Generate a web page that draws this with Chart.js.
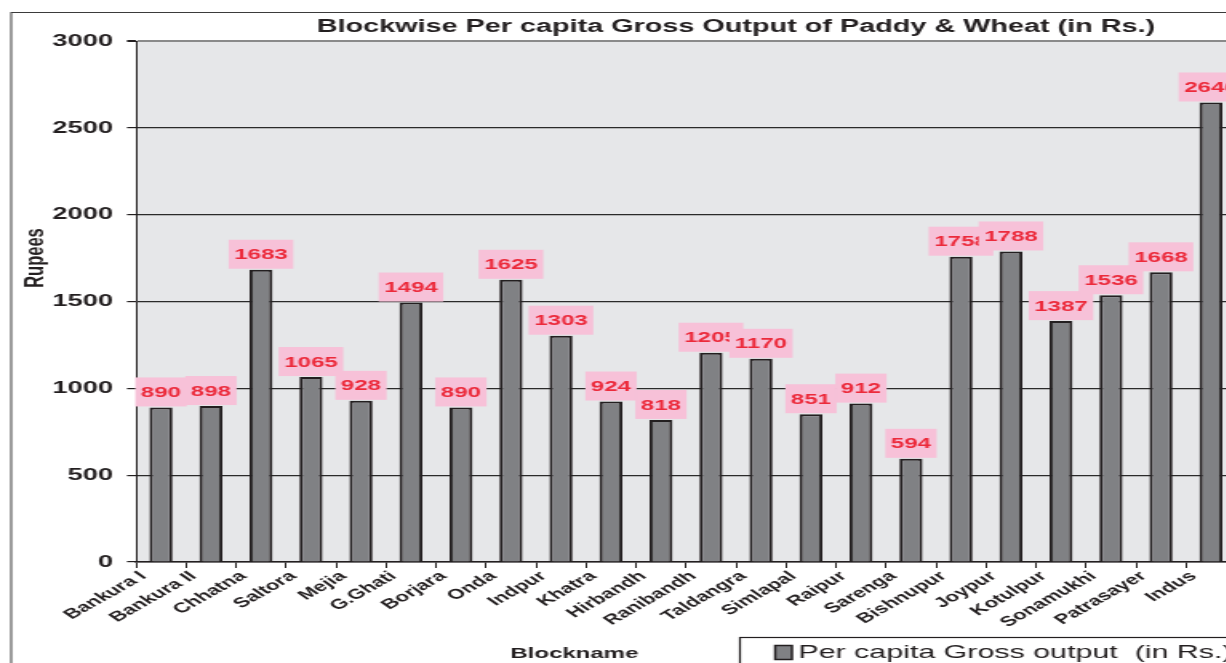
<!DOCTYPE html>
<html>
<head>
<meta charset="utf-8">
<script src="https://cdn.jsdelivr.net/npm/chart.js"></script>
<style>
  html, body { margin: 0; padding: 0; background: #fff; overflow: hidden; }
  #wrap { width: 1472px; height: 663px; }
</style>
</head>
<body>
<div id="wrap"><canvas id="chart" width="920" height="663" style="width:1472px;height:663px;display:block"></canvas></div>
<script>
// blocks of the district and per capita gross output (Rs.)
const blocks = ["Bankura I", "Bankura II", "Chhatna", "Saltora", "Mejia", "G.Ghati", "Borjara",
  "Onda", "Indpur", "Khatra", "Hirbandh", "Ranibandh", "Taldangra", "Simlapal", "Raipur",
  "Sarenga", "Bishnupur", "Joypur", "Kotulpur", "Sonamukhi", "Patrasayer", "Indus"];
const perCapitaOutput = [890, 898, 1683, 1065, 928, 1494, 890, 1625, 1303, 924, 818, 1205,
  1170, 851, 912, 594, 1758, 1788, 1387, 1536, 1668, 2646];
const yMin = 0, yMax = 3000, yStep = 500;

const chartTitle = "Blockwise Per capita Gross Output of Paddy & Wheat (in Rs.)";
const seriesName = "Per capita Gross output  (in Rs.)";
const xTitle = "Blockname";
const yTitle = "Rupees";

const ink = "#231f20";
const barFill = "#808184";
const font = "Liberation Sans";

// the original picture is stretched sideways, canvas is drawn narrow and widened by css
const backdrop = {
  id: "backdrop",
  beforeDraw(chart) {
    const { ctx, chartArea: a } = chart;
    ctx.save();
    ctx.fillStyle = "#fff";
    ctx.fillRect(0, 0, chart.width, chart.height);
    ctx.strokeStyle = "#3b3b3b";
    ctx.lineWidth = 1;
    ctx.strokeRect(7, 12.5, chart.width + 50, chart.height + 50);
    ctx.fillStyle = "#e6e7e9";
    ctx.fillRect(a.left, a.top, a.right - a.left, a.bottom - a.top);
    ctx.restore();
  }
};

const valueLabels = {
  id: "valueLabels",
  afterDatasetsDraw(chart) {
    const ctx = chart.ctx;
    const ds = chart.data.datasets[0];
    ctx.save();
    ctx.font = "bold 15px '" + font + "'";
    ctx.textAlign = "center";
    ctx.textBaseline = "middle";
    chart.getDatasetMeta(0).data.forEach((bar, i) => {
      const txt = String(ds.data[i]);
      const w = ctx.measureText(txt).width + 7;
      const h = 29;
      const bottom = bar.y - 1;
      ctx.fillStyle = "#f7c1d8";
      ctx.fillRect(bar.x - w / 2, bottom - h, w, h);
      ctx.fillStyle = "#ec2a3b";
      ctx.fillText(txt, bar.x, bottom - h / 2 + 1);
    });
    ctx.restore();
  }
};

const titlesAndLegend = {
  id: "titlesAndLegend",
  afterDraw(chart) {
    const ctx = chart.ctx;
    ctx.save();
    ctx.fillStyle = ink;
    // y axis title
    ctx.font = "bold 16.5px '" + font + "'";
    ctx.textAlign = "center";
    ctx.textBaseline = "middle";
    ctx.translate(22, 258);
    ctx.rotate(-Math.PI / 2);
    ctx.fillText(yTitle, 0, 0);
    ctx.setTransform(1, 0, 0, 1, 0, 0);
    // x axis title
    ctx.font = "bold 15px '" + font + "'";
    ctx.fillText(xTitle, 359, 654);
    // legend box
    ctx.fillStyle = "#fff";
    ctx.fillRect(462.5, 637.5, 400, 60);
    ctx.strokeStyle = ink;
    ctx.lineWidth = 1.2;
    ctx.strokeRect(462.5, 637.5, 400, 60);
    ctx.fillStyle = barFill;
    ctx.fillRect(484.5, 645.5, 10.5, 14);
    ctx.lineWidth = 1.5;
    ctx.strokeRect(484.5, 645.5, 10.5, 14);
    ctx.fillStyle = ink;
    ctx.font = "19px '" + font + "'";
    ctx.textAlign = "left";
    ctx.fillText(chart.data.datasets[0].label, 499, 653);
    ctx.restore();
  }
};

new Chart(document.getElementById("chart"), {
  type: "bar",
  data: {
    labels: blocks,
    datasets: [{
      label: seriesName,
      data: perCapitaOutput,
      backgroundColor: barFill,
      borderColor: ink,
      borderWidth: 2,
      barPercentage: 0.46,
      categoryPercentage: 1
    }]
  },
  options: {
    responsive: false,
    devicePixelRatio: 1,
    animation: false,
    layout: { padding: 0 },
    plugins: {
      legend: { display: false },
      tooltip: { enabled: false },
      title: {
        display: true,
        text: chartTitle,
        color: ink,
        font: { family: font, size: 18, weight: "bold" },
        padding: { top: 16, bottom: 3.4 }
      }
    },
    scales: {
      x: {
        grid: { display: true, drawOnChartArea: false, drawTicks: true, tickLength: 6, tickColor: ink, offset: true },
        border: { display: true, color: ink, width: 1.5 },
        ticks: {
          color: ink,
          font: { family: font, size: 14, weight: "bold" },
          minRotation: 42,
          maxRotation: 42,
          autoSkip: false,
          padding: 0,
          labelOffset: -11
        },
        afterFit(scale) { scale.width = scale.width; scale.height = 101; }
      },
      y: {
        min: yMin,
        max: yMax,
        ticks: {
          stepSize: yStep,
          color: ink,
          padding: 8.8,
          font: { family: font, size: 17, weight: "bold" },
          callback: (v) => String(v)
        },
        grid: {
          color: (c) => c.tick && c.tick.value === yMax ? "#8a8a8a" : "#2a2a2a",
          lineWidth: (c) => c.tick && c.tick.value === yMax ? 2 : 1.2,
          tickLength: 5.6,
          tickColor: ink
        },
        border: { display: true, color: ink, width: 1 },
        afterFit(scale) { scale.width = 85; }
      },
      // empty space on the right, the original chart runs on past the picture edge
      yRight: {
        position: "right",
        min: yMin,
        max: yMax,
        grid: { display: false },
        border: { display: false },
        ticks: { display: false },
        afterFit(scale) { scale.width = 147.5; }
      }
    }
  },
  plugins: [backdrop, valueLabels, titlesAndLegend]
});
</script>
</body>
</html>
